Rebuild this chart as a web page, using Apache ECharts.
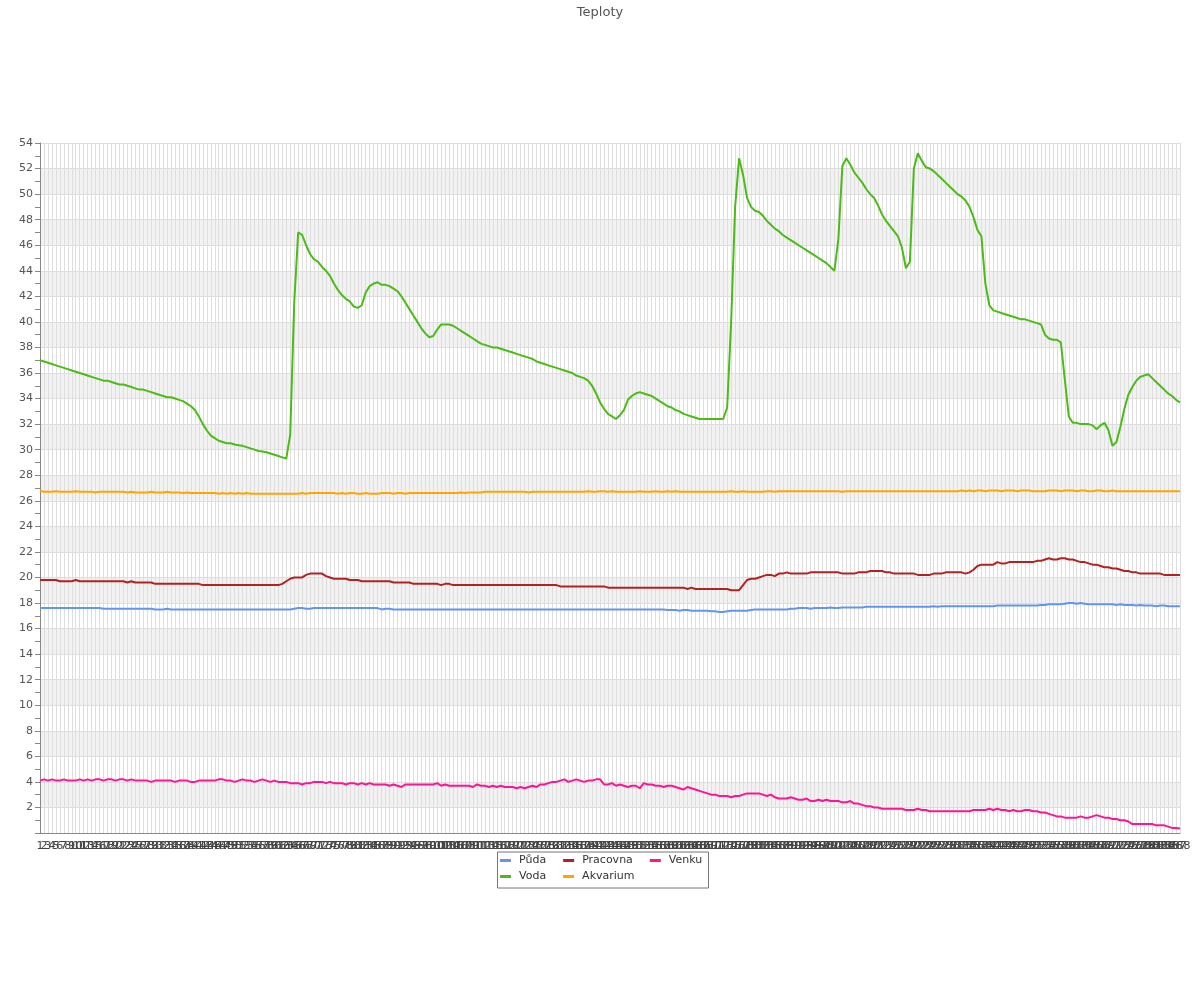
<!DOCTYPE html>
<html>
<head>
<meta charset="utf-8">
<script src="https://cdn.jsdelivr.net/npm/echarts@6/dist/echarts.min.js"></script>
<style>html,body{margin:0;padding:0;background:#fff}#c{width:1200px;height:1000px}</style>
</head>
<body>
<div id="c"></div>
<script>
const categories = Array.from({length: 288}, (_, i) => String(i + 1));
const yTicks = {min: 0, max: 54, interval: 2};

const puda = [
17.6,17.6,17.6,17.6,17.6,17.6,17.6,17.6,17.6,17.6,
17.6,17.6,17.6,17.6,17.6,17.6,17.55,17.55,17.55,17.55,
17.55,17.55,17.55,17.55,17.55,17.55,17.55,17.55,17.55,17.5,
17.5,17.5,17.55,17.5,17.5,17.5,17.5,17.5,17.5,17.5,
17.5,17.5,17.5,17.5,17.5,17.5,17.5,17.5,17.5,17.5,
17.5,17.5,17.5,17.5,17.5,17.5,17.5,17.5,17.5,17.5,
17.5,17.5,17.5,17.5,17.55,17.6,17.6,17.55,17.55,17.6,
17.6,17.6,17.6,17.6,17.6,17.6,17.6,17.6,17.6,17.6,
17.6,17.6,17.6,17.6,17.6,17.6,17.5,17.55,17.55,17.5,
17.5,17.5,17.5,17.5,17.5,17.5,17.5,17.5,17.5,17.5,
17.5,17.5,17.5,17.5,17.5,17.5,17.5,17.5,17.5,17.5,
17.5,17.5,17.5,17.5,17.5,17.5,17.5,17.5,17.5,17.5,
17.5,17.5,17.5,17.5,17.5,17.5,17.5,17.5,17.5,17.5,
17.5,17.5,17.5,17.5,17.5,17.5,17.5,17.5,17.5,17.5,
17.5,17.5,17.5,17.5,17.5,17.5,17.5,17.5,17.5,17.5,
17.5,17.5,17.5,17.5,17.5,17.5,17.5,17.5,17.45,17.45,
17.45,17.4,17.45,17.45,17.4,17.4,17.4,17.4,17.4,17.35,
17.35,17.3,17.3,17.35,17.4,17.4,17.4,17.4,17.4,17.45,
17.5,17.5,17.5,17.5,17.5,17.5,17.5,17.5,17.5,17.55,
17.55,17.6,17.6,17.6,17.55,17.6,17.6,17.6,17.6,17.65,
17.6,17.6,17.65,17.65,17.65,17.65,17.65,17.65,17.7,17.7,
17.7,17.7,17.7,17.7,17.7,17.7,17.7,17.7,17.7,17.7,
17.7,17.7,17.7,17.7,17.7,17.75,17.7,17.75,17.75,17.75,
17.75,17.75,17.75,17.75,17.75,17.75,17.75,17.75,17.75,17.75,
17.75,17.8,17.8,17.8,17.8,17.8,17.8,17.8,17.8,17.8,
17.8,17.8,17.85,17.85,17.9,17.9,17.9,17.9,17.95,18.0,
18.0,17.95,18.0,17.95,17.9,17.9,17.9,17.9,17.9,17.9,
17.9,17.85,17.9,17.85,17.85,17.85,17.8,17.85,17.8,17.8,
17.8,17.75,17.8,17.8,17.75,17.75,17.75,17.75
];

const voda = [
37.0,36.9,36.8,36.7,36.6,36.5,36.4,36.3,36.2,36.1,
36.0,35.9,35.8,35.7,35.6,35.5,35.4,35.4,35.3,35.2,
35.1,35.1,35.0,34.9,34.8,34.7,34.7,34.6,34.5,34.4,
34.3,34.2,34.1,34.1,34.0,33.9,33.8,33.6,33.4,33.1,
32.6,32.0,31.5,31.1,30.9,30.7,30.6,30.5,30.5,30.4,
30.35,30.3,30.2,30.1,30.0,29.9,29.85,29.8,29.7,29.6,
29.5,29.4,29.3,31.2,41.5,47.0,46.8,46.0,45.3,44.9,
44.7,44.3,44.0,43.6,43.0,42.5,42.1,41.8,41.6,41.2,
41.1,41.3,42.3,42.8,43.0,43.1,42.9,42.9,42.8,42.6,
42.4,42.0,41.5,41.0,40.5,40.0,39.5,39.1,38.8,38.9,
39.4,39.8,39.8,39.8,39.7,39.5,39.3,39.1,38.9,38.7,
38.5,38.3,38.2,38.1,38.0,38.0,37.9,37.8,37.7,37.6,
37.5,37.4,37.3,37.2,37.1,36.9,36.8,36.7,36.6,36.5,
36.4,36.3,36.2,36.1,36.0,35.8,35.7,35.6,35.4,35.0,
34.4,33.7,33.2,32.8,32.6,32.4,32.7,33.1,33.9,34.2,
34.4,34.5,34.4,34.3,34.2,34.0,33.8,33.6,33.4,33.3,
33.1,33.0,32.8,32.7,32.6,32.5,32.4,32.4,32.4,32.4,
32.4,32.4,32.4,33.3,40.0,49.0,52.8,51.5,49.7,49.0,
48.7,48.6,48.3,47.9,47.6,47.3,47.1,46.8,46.6,46.4,
46.2,46.0,45.8,45.6,45.4,45.2,45.0,44.8,44.6,44.3,
44.0,46.5,52.2,52.8,52.3,51.7,51.3,50.9,50.4,50.0,
49.7,49.1,48.4,47.9,47.5,47.1,46.7,45.8,44.2,44.7,
52.0,53.2,52.6,52.1,52.0,51.8,51.5,51.2,50.9,50.6,
50.3,50.0,49.8,49.5,49.0,48.2,47.2,46.7,43.0,41.3,
40.9,40.8,40.7,40.6,40.5,40.4,40.3,40.2,40.2,40.1,
40.0,39.9,39.8,39.0,38.7,38.6,38.6,38.4,35.5,32.6,
32.1,32.1,32.0,32.0,32.0,31.9,31.6,31.9,32.1,31.5,
30.3,30.6,31.8,33.2,34.3,34.9,35.4,35.7,35.8,35.9,
35.6,35.3,35.0,34.7,34.4,34.2,33.9,33.7
];

const pracovna = [
19.8,19.8,19.8,19.8,19.8,19.7,19.7,19.7,19.7,19.8,
19.7,19.7,19.7,19.7,19.7,19.7,19.7,19.7,19.7,19.7,
19.7,19.7,19.6,19.7,19.6,19.6,19.6,19.6,19.6,19.5,
19.5,19.5,19.5,19.5,19.5,19.5,19.5,19.5,19.5,19.5,
19.5,19.4,19.4,19.4,19.4,19.4,19.4,19.4,19.4,19.4,
19.4,19.4,19.4,19.4,19.4,19.4,19.4,19.4,19.4,19.4,
19.4,19.5,19.7,19.9,20.0,20.0,20.0,20.2,20.3,20.3,
20.3,20.3,20.1,20.0,19.9,19.9,19.9,19.9,19.8,19.8,
19.8,19.7,19.7,19.7,19.7,19.7,19.7,19.7,19.7,19.6,
19.6,19.6,19.6,19.6,19.5,19.5,19.5,19.5,19.5,19.5,
19.5,19.4,19.5,19.5,19.4,19.4,19.4,19.4,19.4,19.4,
19.4,19.4,19.4,19.4,19.4,19.4,19.4,19.4,19.4,19.4,
19.4,19.4,19.4,19.4,19.4,19.4,19.4,19.4,19.4,19.4,
19.4,19.3,19.3,19.3,19.3,19.3,19.3,19.3,19.3,19.3,
19.3,19.3,19.3,19.2,19.2,19.2,19.2,19.2,19.2,19.2,
19.2,19.2,19.2,19.2,19.2,19.2,19.2,19.2,19.2,19.2,
19.2,19.2,19.2,19.1,19.2,19.1,19.1,19.1,19.1,19.1,
19.1,19.1,19.1,19.1,19.0,19.0,19.0,19.4,19.8,19.9,
19.9,20.0,20.1,20.2,20.2,20.1,20.3,20.3,20.4,20.3,
20.3,20.3,20.3,20.3,20.4,20.4,20.4,20.4,20.4,20.4,
20.4,20.4,20.3,20.3,20.3,20.3,20.4,20.4,20.4,20.5,
20.5,20.5,20.5,20.4,20.4,20.3,20.3,20.3,20.3,20.3,
20.3,20.2,20.2,20.2,20.2,20.3,20.3,20.3,20.4,20.4,
20.4,20.4,20.4,20.3,20.4,20.6,20.9,21.0,21.0,21.0,
21.0,21.2,21.1,21.1,21.2,21.2,21.2,21.2,21.2,21.2,
21.2,21.3,21.3,21.4,21.5,21.4,21.4,21.5,21.5,21.4,
21.4,21.3,21.2,21.2,21.1,21.0,21.0,20.9,20.8,20.8,
20.7,20.7,20.6,20.5,20.5,20.4,20.4,20.3,20.3,20.3,
20.3,20.3,20.3,20.2,20.2,20.2,20.2,20.2
];

const akvarium = [
26.8,26.7,26.7,26.7,26.75,26.7,26.7,26.7,26.7,26.75,
26.7,26.7,26.7,26.7,26.65,26.7,26.7,26.7,26.7,26.7,
26.7,26.7,26.65,26.7,26.65,26.65,26.65,26.65,26.7,26.65,
26.65,26.65,26.7,26.65,26.65,26.65,26.6,26.65,26.6,26.6,
26.6,26.6,26.6,26.6,26.6,26.55,26.6,26.55,26.6,26.55,
26.6,26.55,26.6,26.55,26.55,26.55,26.55,26.55,26.55,26.55,
26.55,26.55,26.55,26.55,26.55,26.55,26.6,26.55,26.6,26.6,
26.6,26.6,26.6,26.6,26.6,26.55,26.6,26.55,26.6,26.6,
26.55,26.55,26.6,26.55,26.55,26.55,26.6,26.6,26.6,26.55,
26.6,26.6,26.55,26.6,26.6,26.6,26.6,26.6,26.6,26.6,
26.6,26.6,26.6,26.6,26.6,26.6,26.65,26.6,26.65,26.65,
26.65,26.65,26.7,26.7,26.7,26.7,26.7,26.7,26.7,26.7,
26.7,26.7,26.7,26.65,26.7,26.7,26.7,26.7,26.7,26.7,
26.7,26.7,26.7,26.7,26.7,26.7,26.7,26.7,26.75,26.7,
26.7,26.75,26.75,26.7,26.75,26.7,26.7,26.7,26.7,26.7,
26.7,26.75,26.7,26.7,26.7,26.75,26.7,26.7,26.75,26.7,
26.75,26.7,26.7,26.7,26.7,26.7,26.7,26.7,26.7,26.7,
26.7,26.7,26.7,26.7,26.75,26.7,26.7,26.75,26.7,26.7,
26.7,26.7,26.7,26.75,26.75,26.7,26.75,26.75,26.75,26.75,
26.75,26.75,26.75,26.75,26.75,26.75,26.75,26.75,26.75,26.75,
26.75,26.75,26.7,26.75,26.75,26.75,26.75,26.75,26.75,26.75,
26.75,26.75,26.75,26.75,26.75,26.75,26.75,26.75,26.75,26.75,
26.75,26.75,26.75,26.75,26.75,26.75,26.75,26.75,26.75,26.75,
26.75,26.75,26.8,26.75,26.8,26.75,26.8,26.8,26.75,26.8,
26.8,26.8,26.75,26.8,26.8,26.8,26.75,26.8,26.8,26.8,
26.75,26.75,26.75,26.75,26.8,26.8,26.8,26.75,26.8,26.8,
26.8,26.75,26.8,26.8,26.75,26.75,26.8,26.8,26.75,26.75,
26.8,26.75,26.75,26.75,26.75,26.75,26.75,26.75,26.75,26.75,
26.75,26.75,26.75,26.75,26.75,26.75,26.75,26.75
];

const venku = [
4.1,4.2,4.1,4.2,4.1,4.1,4.2,4.1,4.1,4.1,
4.2,4.1,4.2,4.1,4.2,4.2,4.1,4.2,4.2,4.1,
4.2,4.2,4.1,4.2,4.1,4.1,4.1,4.1,4.0,4.1,
4.1,4.1,4.1,4.1,4.0,4.1,4.1,4.1,4.0,4.0,
4.1,4.1,4.1,4.1,4.1,4.2,4.2,4.1,4.1,4.0,
4.1,4.2,4.1,4.1,4.0,4.1,4.2,4.1,4.0,4.1,
4.0,4.0,4.0,3.9,3.9,3.9,3.8,3.9,3.9,4.0,
4.0,4.0,3.9,4.0,3.9,3.9,3.9,3.8,3.9,3.9,
3.8,3.9,3.8,3.9,3.8,3.8,3.8,3.8,3.7,3.8,
3.7,3.6,3.8,3.8,3.8,3.8,3.8,3.8,3.8,3.8,
3.9,3.7,3.8,3.7,3.7,3.7,3.7,3.7,3.7,3.6,
3.8,3.7,3.7,3.6,3.7,3.6,3.7,3.6,3.6,3.6,
3.5,3.6,3.5,3.6,3.7,3.6,3.8,3.8,3.9,4.0,
4.0,4.1,4.2,4.0,4.1,4.2,4.1,4.0,4.1,4.1,
4.2,4.2,3.8,3.8,3.9,3.7,3.8,3.7,3.6,3.7,
3.7,3.5,3.9,3.8,3.8,3.7,3.7,3.6,3.7,3.7,
3.6,3.5,3.4,3.6,3.5,3.4,3.3,3.2,3.1,3.0,
3.0,2.9,2.9,2.9,2.8,2.9,2.9,3.0,3.1,3.1,
3.1,3.1,3.0,2.9,3.0,2.8,2.7,2.7,2.7,2.8,
2.7,2.6,2.6,2.7,2.5,2.5,2.6,2.5,2.6,2.5,
2.5,2.5,2.4,2.4,2.5,2.3,2.3,2.2,2.1,2.1,
2.0,2.0,1.9,1.9,1.9,1.9,1.9,1.9,1.8,1.8,
1.8,1.9,1.8,1.8,1.7,1.7,1.7,1.7,1.7,1.7,
1.7,1.7,1.7,1.7,1.7,1.8,1.8,1.8,1.8,1.9,
1.8,1.9,1.8,1.8,1.7,1.8,1.7,1.7,1.8,1.8,
1.7,1.7,1.6,1.6,1.5,1.4,1.3,1.3,1.2,1.2,
1.2,1.2,1.3,1.2,1.2,1.3,1.4,1.3,1.2,1.2,
1.1,1.1,1.0,1.0,0.9,0.7,0.7,0.7,0.7,0.7,
0.7,0.6,0.6,0.6,0.5,0.4,0.4,0.35
];

const seriesNames = ['Půda', 'Voda', 'Pracovna', 'Akvarium', 'Venku'];
const seriesColors = ['#6495ed', '#4cbb17', '#b22222', '#ffa500', '#ff1493'];
const seriesData = [puda, voda, pracovna, akvarium, venku];

const FONT = 'DejaVu Sans';
const chart = echarts.init(document.getElementById('c'), null, {renderer: 'canvas'});

const legendCommon = {
  orient: 'horizontal',
  icon: 'rect',
  itemWidth: 11,
  itemHeight: 3,
  itemGap: 17,
  padding: 0,
  textStyle: {fontFamily: FONT, fontSize: 11, color: '#333', padding: [0, 0, 0, 3]}
};

chart.setOption({
  animation: false,
  textStyle: {fontFamily: FONT},
  title: {
    text: 'Teploty',
    left: 'center',
    top: 1,
    textStyle: {fontFamily: FONT, fontSize: 13, fontWeight: 'normal', color: '#555'}
  },
  legend: [
    Object.assign({}, legendCommon, {data: ['Půda', 'Pracovna', 'Venku'], left: 500, top: 855}),
    Object.assign({}, legendCommon, {data: ['Voda', 'Akvarium'], left: 500, top: 871})
  ],
  graphic: [{
    type: 'rect',
    left: 495, top: 849.5,
    shape: {width: 211, height: 36},
    style: {fill: 'none', stroke: '#777', lineWidth: 1},
    silent: true
  }],
  grid: {left: 40, right: 20, top: 143, bottom: 167, containLabel: false},
  xAxis: {
    type: 'category',
    data: categories,
    boundaryGap: false,
    axisLine: {lineStyle: {color: '#888'}},
    axisTick: {show: false},
    axisLabel: {interval: 0, fontFamily: FONT, fontSize: 11, color: '#444', margin: 8, hideOverlap: false},
    splitLine: {show: true, interval: 0, lineStyle: {color: '#dedede', width: 1}}
  },
  yAxis: {
    type: 'value',
    min: yTicks.min,
    max: yTicks.max,
    interval: yTicks.interval,
    axisLine: {show: true, lineStyle: {color: '#888'}},
    axisTick: {show: true, length: 5, lineStyle: {color: '#888'}},
    minorTick: {show: true, splitNumber: 2, length: 5, lineStyle: {color: '#888'}},
    axisLabel: {fontFamily: FONT, fontSize: 11, color: '#555', margin: 7, showMinLabel: false},
    splitLine: {show: true, lineStyle: {color: '#dedede'}},
    splitArea: {show: true, areaStyle: {color: ['#ffffff', '#f2f2f2']}}
  },
  series: seriesNames.map((n, k) => ({
    name: n,
    type: 'line',
    data: seriesData[k],
    showSymbol: false,
    symbol: 'none',
    lineStyle: {width: 2, color: seriesColors[k]},
    itemStyle: {color: seriesColors[k]}
  }))
});
</script>
</body>
</html>
